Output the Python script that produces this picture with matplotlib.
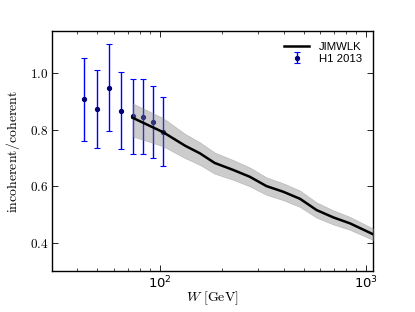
import numpy as np
import matplotlib
matplotlib.use("Agg")
import matplotlib.pyplot as plt
from matplotlib.ticker import FuncFormatter, LogLocator

plt.rcParams["mathtext.fontset"] = "cm"

# H1 2013 data: incoherent/coherent ratio vs W
h1_w = [43, 50, 57, 65, 74, 83, 93, 104]
h1_ratio = [0.908, 0.875, 0.949, 0.868, 0.849, 0.846, 0.827, 0.792]
h1_err_lo = [0.149, 0.138, 0.152, 0.137, 0.134, 0.132, 0.127, 0.121]
h1_err_hi = [0.145, 0.138, 0.155, 0.137, 0.132, 0.133, 0.127, 0.125]

# JIMWLK prediction with uncertainty band
jim_w = [74, 104, 133, 157, 185, 228, 274, 330, 398, 480, 578, 697, 839, 1089]
jim_ratio = [0.843, 0.792, 0.744, 0.717, 0.683, 0.658, 0.634, 0.601, 0.581, 0.556, 0.516, 0.490, 0.469, 0.430]
jim_hi = [0.894, 0.842, 0.786, 0.756, 0.720, 0.693, 0.667, 0.632, 0.611, 0.585, 0.543, 0.515, 0.492, 0.450]
jim_lo = [0.777, 0.742, 0.700, 0.676, 0.645, 0.623, 0.600, 0.570, 0.551, 0.527, 0.489, 0.465, 0.446, 0.410]

fig = plt.figure(figsize=(4.15, 3.12), dpi=100)
ax = fig.add_axes([0.1245, 0.131, 0.7745, 0.7696])

ax.errorbar(h1_w, h1_ratio, yerr=[h1_err_lo, h1_err_hi], fmt="o", color="#00007a",
            ecolor="blue", elinewidth=1.0, capsize=2.5, capthick=0.8, markersize=2.8,
            label="H1 2013", zorder=2)
ax.fill_between(jim_w, jim_lo, jim_hi, color="grey", alpha=0.4, linewidth=0.5, zorder=3)
ax.plot(jim_w, jim_ratio, color="black", linewidth=1.8, label="JIMWLK", zorder=4)

ax.set_xscale("log")
ax.set_xlim(30, 1085)
ax.set_ylim(0.3, 1.15)
ax.set_yticks([0.4, 0.6, 0.8, 1.0])
ax.yaxis.set_major_formatter(FuncFormatter(lambda v, _: r"$%.1f$" % v))
ax.xaxis.set_major_locator(LogLocator(base=10))
ax.xaxis.set_minor_locator(LogLocator(base=10, subs=np.arange(2, 10)))

ax.tick_params(which="both", direction="in", top=True, right=True, labelsize=9.5, pad=2.5)
ax.tick_params(which="major", length=4, width=0.6)
ax.tick_params(which="minor", length=2, width=0.5)
for sp in ax.spines.values():
    sp.set_linewidth(1.0)

ax.set_xlabel(r"$W\ [\mathrm{GeV}]$", fontsize=10)
ax.set_ylabel(r"$\mathrm{incoherent/coherent}$", fontsize=10)
ax.xaxis.set_label_coords(0.5, -0.075)
ax.yaxis.set_label_coords(-0.093, 0.5)

handles, labels = ax.get_legend_handles_labels()
order = [labels.index("JIMWLK"), labels.index("H1 2013")]
ax.legend([handles[i] for i in order], [labels[i] for i in order], loc="upper right",
          frameon=False, prop={"family": "Liberation Sans", "size": 8.2},
          handlelength=2.2, handletextpad=0.8, labelspacing=0.1, borderaxespad=0.6)

fig.savefig("out.png", dpi=100)
